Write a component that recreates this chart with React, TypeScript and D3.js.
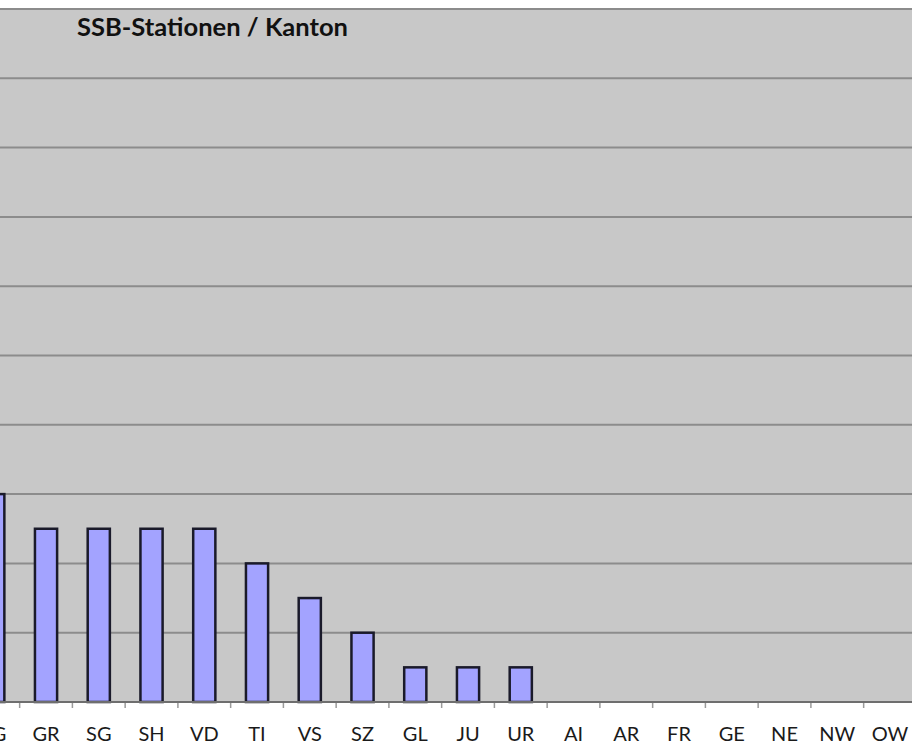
import React from "react";
import * as d3 from "d3";

// Stations per canton
const cantons = ["ZG", "GR", "SG", "SH", "VD", "TI", "VS", "SZ", "GL", "JU", "UR", "AI", "AR", "FR", "GE", "NE", "NW", "OW"];
const stations = [6, 5, 5, 5, 5, 4, 3, 2, 1, 1, 1, 0, 0, 0, 0, 0, 0, 0];
const yTicks = [0, 2, 4, 6, 8, 10, 12, 14, 16, 18, 20];
const title = "SSB-Stationen / Kanton";

const W = 912;
const H = 744;

export default function App() {
  const x = d3
    .scaleBand<string>()
    .domain(cantons)
    .range([-33.1, -33.1 + 52.75 * cantons.length])
    .paddingInner(0.58)
    .paddingOuter(0.29);
  const y = d3.scaleLinear().domain([0, 20]).range([702, 9]);
  const step = x.step();
  const bw = x.bandwidth();
  const left = x(cantons[0])! - (step - bw) / 2;

  return (
    <svg width={W} height={H} style={{ position: "absolute", left: 0, top: 0, display: "block" }}>
      <rect x={0} y={0} width={W} height={H} fill="#ffffff" />
      <rect x={0} y={y(20)} width={W} height={y(0) - y(20)} fill="#c8c8c8" />
      {yTicks.map((t) => (
        <line key={t} x1={0} x2={W} y1={y(t)} y2={y(t)} stroke="#8c8c8c" strokeWidth={2} />
      ))}
      {d3.range(cantons.length + 1).map((i) => (
        <line
          key={"tk" + i}
          x1={left + i * step}
          x2={left + i * step}
          y1={y(0)}
          y2={y(0) + 6}
          stroke="#9a9a9a"
          strokeWidth={1.5}
        />
      ))}
      {cantons.map((c, i) =>
        stations[i] > 0 ? (
          <rect
            key={"b" + c}
            x={x(c)!}
            y={y(stations[i])}
            width={bw}
            height={y(0) - y(stations[i])}
            fill="#a3a3ff"
            stroke="#1a1a2a"
            strokeWidth={2.5}
          />
        ) : null
      )}
      <line x1={0} x2={W} y1={y(0)} y2={y(0)} stroke="#6e6e6e" strokeWidth={2} />
      {cantons.map((c) => (
        <text
          key={"l" + c}
          x={x(c)! + bw / 2}
          y={741}
          textAnchor="middle"
          fontFamily="Lato, 'Open Sans', sans-serif"
          fontSize={20}
          fill="#1a1a1a"
        >
          {c}
        </text>
      ))}
      <text
        x={77}
        y={36}
        fontFamily="Lato, 'Open Sans', sans-serif"
        fontWeight="bold"
        fontSize={24}
        fill="#111"
        textLength={271}
        lengthAdjust="spacingAndGlyphs"
      >
        {title}
      </text>
    </svg>
  );
}
